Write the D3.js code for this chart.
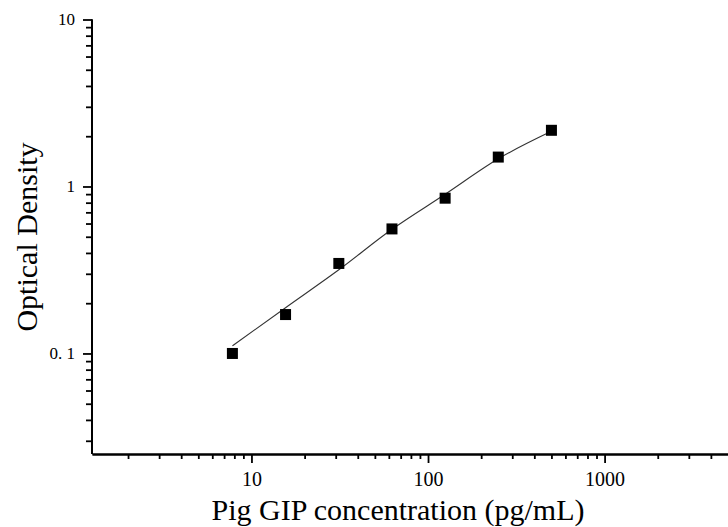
<!DOCTYPE html>
<html><head><meta charset="utf-8">
<script src="https://cdn.jsdelivr.net/npm/d3@7/dist/d3.min.js"></script>
<style>body{margin:0;background:#fff}svg{display:block}text{font-family:"Liberation Serif","DejaVu Serif",serif;fill:#000}</style>
</head><body><svg id="c" width="728" height="527"></svg>
<script>
const concentrations = [7.8, 15.6, 31.25, 62.5, 125, 250, 500];
const odValues = [0.1, 0.171, 0.346, 0.557, 0.851, 1.5, 2.17];
const fitValues = [0.111, 0.188, 0.317, 0.554, 0.898, 1.465, 2.14];
const xMajorTicks = [10, 100, 1000];
const xMinorTicks = [2,3,4,5,6,7,8,9,20,30,40,50,60,70,80,90,200,300,400,500,600,700,800,900,2000,3000,4000];
const yMajorTicks = [0.1, 1, 10];
const yTickLabels = ["0. 1", "1", "10"];
const yMinorTicks = [0.03,0.04,0.05,0.06,0.07,0.08,0.09,0.2,0.3,0.4,0.5,0.6,0.7,0.8,0.9,2,3,4,5,6,7,8,9];

const svg = d3.select("#c");
const x = d3.scaleLog().domain([1.25, 5000]).range([92, 728]);
const y = d3.scaleLog().domain([0.025, 10]).range([454, 19.5]);

// axes
const gx = svg.append("g").attr("transform", "translate(0,454)");
gx.call(d3.axisBottom(x).tickValues(xMajorTicks).tickSize(9).tickSizeOuter(0).tickFormat(d3.format("d")));
gx.append("g").call(d3.axisBottom(x).tickValues(xMinorTicks).tickSize(5).tickSizeOuter(0).tickFormat(""));
gx.selectAll(".domain").attr("stroke-width", 2).attr("stroke", "#000");
gx.selectAll(".tick line").attr("stroke-width", 1.8).attr("stroke", "#000");
gx.selectAll(".tick text").attr("font-size", 20).attr("dy", 0).attr("y", 32).attr("fill", "#000").attr("font-family", "Liberation Serif");

const gy = svg.append("g").attr("transform", "translate(92,0)");
gy.call(d3.axisLeft(y).tickValues(yMajorTicks).tickSize(9).tickSizeOuter(0).tickFormat((d,i) => yTickLabels[i]));
gy.append("g").call(d3.axisLeft(y).tickValues(yMinorTicks).tickSize(6).tickSizeOuter(0).tickFormat(""));
gy.selectAll(".domain").attr("stroke-width", 2).attr("stroke", "#000");
gy.selectAll(".tick line").attr("stroke-width", 1.8).attr("stroke", "#000");
gy.selectAll(".tick text").attr("font-size", 17).attr("x", -17).attr("dy", "0.32em").attr("fill", "#000").attr("font-family", "Liberation Serif");
gy.selectAll(".domain").attr("d", `M0,${y(10)}V454`);

// fit curve
const fit = concentrations.map((c, i) => [c, fitValues[i]]);
svg.append("path").datum(fit)
  .attr("fill", "none").attr("stroke", "#333").attr("stroke-width", 1.1)
  .attr("d", d3.line().x(d => x(d[0])).y(d => y(d[1])).curve(d3.curveMonotoneX));

// points
const pts = concentrations.map((c, i) => [c, odValues[i]]);
svg.append("g").selectAll("rect").data(pts).join("rect")
  .attr("x", d => x(d[0]) - 5.5).attr("y", d => y(d[1]) - 5.5)
  .attr("width", 11).attr("height", 11).attr("fill", "#000");

// titles
svg.append("text").attr("x", 398).attr("y", 520).attr("text-anchor", "middle")
  .attr("font-size", 30).text("Pig GIP concentration (pg/mL)");
svg.append("text").attr("transform", "translate(37,237) rotate(-90)").attr("text-anchor", "middle")
  .attr("font-size", 30).text("Optical Density");
</script></body></html>
